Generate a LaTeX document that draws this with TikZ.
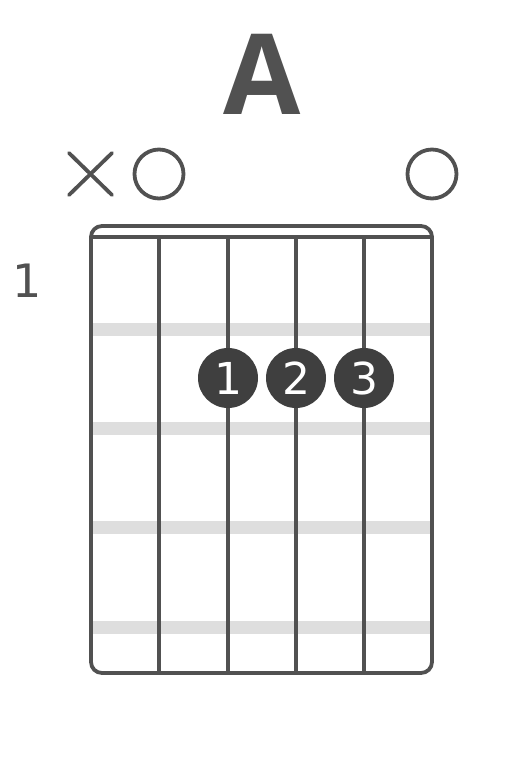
\documentclass[tikz,border=0pt]{standalone}
\usepackage{fontspec}
\setmainfont{DejaVu Sans}
\newfontfamily\titlefont{Open Sans}
\usepackage{tikz}
\usetikzlibrary{calc}
\definecolor{chordgray}{HTML}{515151}
\definecolor{dotgray}{HTML}{3F3F3F}
\definecolor{fretgray}{HTML}{DEDEDE}
\tikzset{
  wire/.style={line width=3.8pt, draw=chordgray, line cap=round},
  fretband/.style={fill=fretgray, draw=none},
  finger/.style={circle, fill=dotgray, minimum size=60pt, inner sep=0pt,
    text=white, font=\fontsize{44}{44}\selectfont},
  openmark/.style={circle, draw=chordgray, line width=3.8pt, minimum size=49pt, inner sep=0pt}
}
\begin{document}
\begin{tikzpicture}[x=1pt, y=-1pt]
    \useasboundingbox (0,0) rectangle (524,764);

      % board geometry
      \def\boardL{91}
      \def\boardR{432}
      \def\boardT{226}
      \def\boardB{673}
      \def\nutY{237}

      % title and fret number
      \node[text=chordgray, font=\titlefont\bfseries\fontsize{112}{112}\selectfont] (title) at (262,74) {A};
      \node[text=chordgray, font=\fontsize{46}{46}\selectfont] (fretnum) at (27,281) {1};

      % fret bands
      \foreach \y in {329,428,527,627}{
        \fill[fretband] (\boardL,\y-6.5) rectangle (\boardR,\y+6.5);
      }

      % inner strings
      \foreach \x in {159,228,296,364}{
        \draw[wire] (\x,\nutY) -- (\x,\boardB);
      }

      % frame and nut
      \draw[wire, rounded corners=11pt]
        (\boardL,\nutY) -- (\boardL,\boardT) -- (\boardR,\boardT) -- (\boardR,\nutY);
      \draw[wire, rounded corners=11pt]
        (\boardL,\nutY) -- (\boardL,\boardB) -- (\boardR,\boardB) -- (\boardR,\nutY);
      \draw[wire] (\boardL,\nutY) -- (\boardR,\nutY);

      % muted and open strings
      \draw[wire] (69,153) -- (112,195);
      \draw[wire] (69,195) -- (112,153);
      \node[openmark] (openA) at (159,174) {};
      \node[openmark] (openE) at (432,174) {};

      % fingers
      \foreach \x/\n in {228/1, 296/2, 364/3}{
        \node[finger] (finger\n) at (\x,378) {\n};
      }

\end{tikzpicture}
\end{document}
